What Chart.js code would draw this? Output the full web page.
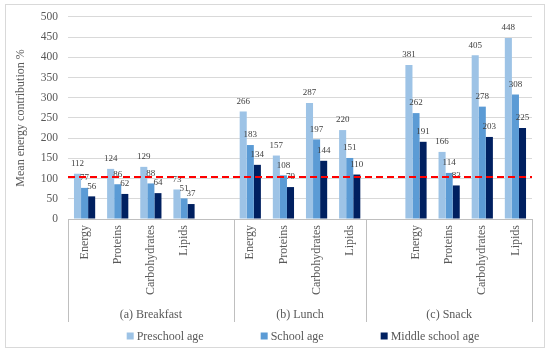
<html>
<head>
    <script src="https://cdn.jsdelivr.net/npm/chart.js@4.4.3/dist/chart.umd.min.js"></script>
    <style>
        body { margin: 0; background: #fff; }
    </style>
</head>
<body>
    <canvas id="mychart" width="550" height="354"></canvas>
    <script>
        // categories, blank slots split the three meals
        const categories = ['Energy', 'Proteins', 'Carbohydrates', 'Lipids', '',
            'Energy', 'Proteins', 'Carbohydrates', 'Lipids', '',
            'Energy', 'Proteins', 'Carbohydrates', 'Lipids'];
        const meals = ['(a) Breakfast', '(b) Lunch', '(c) Snack'];
        const mealSlots = [[0, 4], [5, 8], [9, 13]];
        const seriesNames = ['Preschool age', 'School age', 'Middle school age'];
        const preschool = [112, 124, 129, 73, null, 266, 157, 287, 220, null, 381, 166, 405, 448];
        const school = [77, 86, 88, 51, null, 183, 108, 197, 151, null, 262, 114, 278, 308];
        const middle = [56, 62, 64, 37, null, 134, 79, 144, 110, null, 191, 83, 203, 225];
        const refLine = 104;
        const yTicks = [0, 500, 50];

        const colors = ['#9DC3E6', '#5B9BD5', '#002060'];
        const fontName = "'Liberation Serif', 'Times New Roman', serif";

        const extras = {
            id: 'extras',
            beforeDraw(chart) {
                const ctx = chart.ctx;
                ctx.save();
                ctx.fillStyle = '#fff';
                ctx.fillRect(0, 0, chart.width, chart.height);
                ctx.strokeStyle = '#d9d9d9';
                ctx.lineWidth = 1;
                ctx.strokeRect(5.5, 4.5, 539, 343);
                ctx.restore();
            },
            afterDatasetsDraw(chart) {
                const ctx = chart.ctx;
                const area = chart.chartArea;
                const x = chart.scales.x;
                const y = chart.scales.y;
                ctx.save();
                // value labels
                ctx.font = '9px ' + fontName;
                ctx.fillStyle = '#404040';
                ctx.textAlign = 'center';
                ctx.textBaseline = 'middle';
                chart.data.datasets.forEach((ds, i) => {
                    chart.getDatasetMeta(i).data.forEach((bar, j) => {
                        if (ds.data[j] == null) return;
                        ctx.fillText(ds.data[j], bar.x, bar.y - 10);
                    });
                });
                // red reference line
                const ry = y.getPixelForValue(refLine);
                ctx.strokeStyle = '#ff0000';
                ctx.lineWidth = 2;
                ctx.setLineDash([7, 4]);
                ctx.beginPath();
                ctx.moveTo(area.left, ry);
                ctx.lineTo(area.right, ry);
                ctx.stroke();
                ctx.setLineDash([]);
                // meal separators + names
                const half = (x.getPixelForTick(1) - x.getPixelForTick(0)) / 2;
                ctx.strokeStyle = '#bfbfbf';
                ctx.lineWidth = 1;
                ctx.font = '12px ' + fontName;
                ctx.fillStyle = '#595959';
                mealSlots.forEach((s, i) => {
                    const a = x.getPixelForTick(s[0]) - half;
                    const b = x.getPixelForTick(s[1]) + half;
                    [a, b].forEach(px => {
                        ctx.beginPath();
                        ctx.moveTo(Math.round(px) + 0.5, area.bottom);
                        ctx.lineTo(Math.round(px) + 0.5, area.bottom + 103);
                        ctx.stroke();
                    });
                    ctx.fillText(meals[i], (a + b) / 2, area.bottom + 96);
                });
                // legend
                const gap = 57;
                const widths = seriesNames.map(n => 10 + ctx.measureText(n).width);
                const total = widths.reduce((p, c) => p + c, 0) + gap * (seriesNames.length - 1);
                let lx = (area.left + area.right) / 2 - total / 2 + 3;
                const ly = 336;
                ctx.textAlign = 'left';
                seriesNames.forEach((n, i) => {
                    ctx.fillStyle = colors[i];
                    ctx.fillRect(lx, ly - 3.5, 7, 7);
                    ctx.fillStyle = '#595959';
                    ctx.fillText(n, lx + 10, ly + 0.5);
                    lx += widths[i] + gap;
                });
                ctx.restore();
            }
        };

        config = {
            type: 'bar',
            data: {
                labels: categories,
                datasets: [
                    { label: seriesNames[0], data: preschool, backgroundColor: colors[0] },
                    { label: seriesNames[1], data: school, backgroundColor: colors[1] },
                    { label: seriesNames[2], data: middle, backgroundColor: colors[2] }
                ]
            },
            options: {
                responsive: false,
                animation: false,
                barPercentage: 1,
                categoryPercentage: 0.64,
                layout: { padding: { top: 16, right: 18, left: 0, bottom: 0 } },
                plugins: {
                    legend: { display: false },
                    tooltip: { enabled: false }
                },
                scales: {
                    x: {
                        grid: { display: false, drawTicks: false },
                        border: { display: true, color: '#bfbfbf' },
                        ticks: {
                            autoSkip: false, minRotation: 90, maxRotation: 90, padding: 6,
                            color: '#595959', font: { family: fontName, size: 12 }
                        },
                        afterFit(scale) { scale.height = 135; }
                    },
                    y: {
                        min: yTicks[0], max: yTicks[1],
                        grid: { color: '#d9d9d9', drawTicks: false },
                        border: { display: false },
                        ticks: {
                            stepSize: yTicks[2], padding: 10,
                            color: '#595959', font: { family: fontName, size: 11.5 }
                        },
                        title: {
                            display: true, text: 'Mean energy contribution %',
                            color: '#595959', font: { family: fontName, size: 12 },
                            padding: { top: 14, bottom: 0 }
                        },
                        afterFit(scale) { scale.width = 68; }
                    }
                }
            },
            plugins: [extras]
        };
        new Chart(document.querySelector('#mychart'), config);
    </script>
</body>
</html>
